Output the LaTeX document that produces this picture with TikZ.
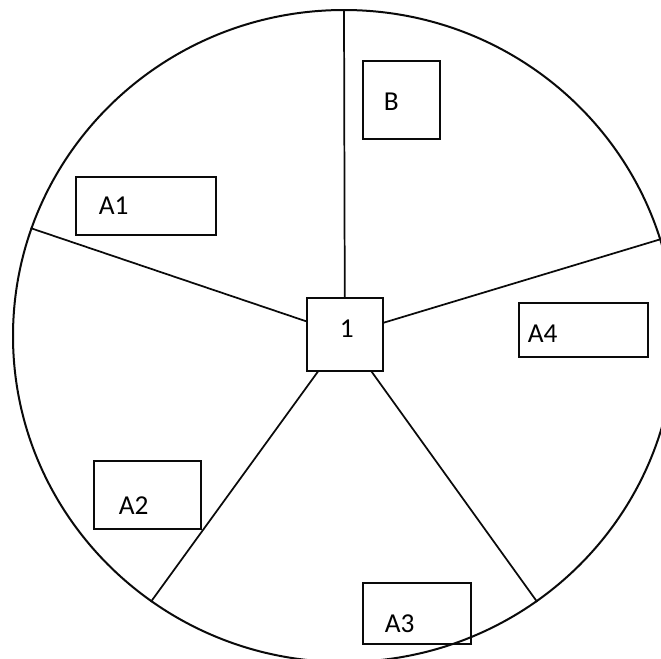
\documentclass[tikz,border=0pt]{standalone}
\usepackage{fontspec}
\setmainfont{Carlito}
\usepackage{tikz}
\usetikzlibrary{shapes.geometric, positioning}
\definecolor{myink}{RGB}{10,10,10}
\newcommand{\zonefont}{\fontsize{20.5}{24}\selectfont}
\tikzset{
  rim/.style={ellipse, draw=myink, line width=1.5pt, inner sep=0pt},
  zone/.style={rectangle, draw=myink, line width=1.3pt, font=\zonefont,
    align=left, anchor=north west, inner ysep=0pt},
  hub/.style={rectangle, draw=myink, line width=1.3pt, font=\zonefont,
    align=center, anchor=north west, inner sep=0pt},
  spoke/.style={line width=1.3pt, color=myink}
}

\begin{document}
\begin{tikzpicture}[x=0.75pt, y=-0.75pt]
  \useasboundingbox (0,0) rectangle (661,658);
  \clip (0,0) rectangle (661,658);

  % Outer boundary
  \node[rim, minimum width=496.5pt, minimum height=489pt] (rim) at (344,336) {};

  % Centre box
  \node[hub, text width=57pt, text height=30pt, text depth=24.75pt] (c) at (306,297) {\hspace*{3pt}1};

  % Spokes to the boundary
  \draw[spoke] (c) -- (rim.north);
  \draw[spoke] (c) -- (rim.161.6);
  \draw[spoke] (c) -- (rim.17.7);
  \draw[spoke] (c) -- (rim.234.5);
  \draw[spoke] (c) -- (rim.306.3);

  % Zone labels
  \node[zone, inner xsep=15.75pt, text width=26.25pt, text height=37.5pt, text depth=21pt] (B) at (362,60) {B};
  \node[zone, inner xsep=17.25pt, text width=70.5pt, text height=28.5pt, text depth=15pt] (A1) at (75,176) {A1};
  \node[zone, inner xsep=6.75pt, text width=83.25pt, text height=30pt, text depth=10.5pt] (A4) at (518,302) {A4};
  \node[zone, inner xsep=18.75pt, text width=42.75pt, text height=40.5pt, text depth=10.5pt] (A2) at (93,460) {A2};
  \node[zone, inner xsep=16.5pt, text width=48pt, text height=37.5pt, text depth=8.25pt] (A3) at (362,582) {A3};

\end{tikzpicture}
\end{document}
